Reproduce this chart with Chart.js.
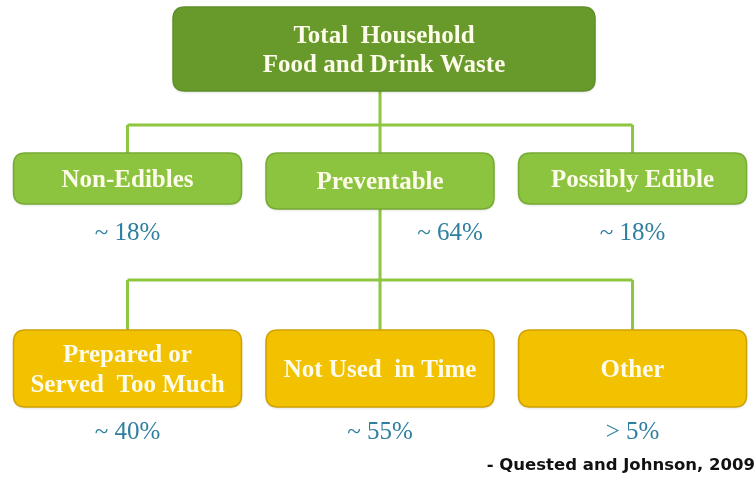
<!DOCTYPE html>
<html><head><meta charset="utf-8">
<script src="https://cdn.jsdelivr.net/npm/chart.js@4/dist/chart.umd.min.js"></script>
<style>html,body{margin:0;padding:0;background:#fff}#wrap{width:755px;height:477px}</style>
</head><body><div id="wrap"><canvas id="c" width="755" height="477"></canvas></div>
<script>
// ---- data ----
const rootLabel = ['Total  Household', 'Food and Drink Waste'];
const level1Labels = [['Non-Edibles'], ['Preventable'], ['Possibly Edible']];
const level1Values = [18, 64, 18];
const level1Qualifiers = ['~', '~', '~'];
const level2Labels = [['Prepared or', 'Served  Too Much'], ['Not Used  in Time'], ['Other']];
const level2Values = [40, 55, 5];
const level2Qualifiers = ['~', '~', '>'];
const expandedIndex = 1;               // level-1 node that splits into level 2
const sourceNote = '- Quested and Johnson, 2009';

// ---- layout / style (not data) ----
const L = {
  rootTop: 7, rootBottom: 91, rootHalfW: 211, rootDx: 4,
  rowTop: [153, 330], rowBottom: [204, 407], expandedBottom: 209,
  halfW: 114, joinY: [125, 280],
  valueY: [233, 432], expandedValueDx: 70,
  radius: 12
};
const C = {
  root: '#689a2b', rootBorder: '#5f8f27',
  l1: '#8cc43f', l1Border: '#76aa33',
  l2: '#f2c100', l2Border: '#cfa200',
  line: '#8dc63f', boxText: '#fdfbea', value: '#2f7f9f'
};

const cols = level1Labels.map((_, i) => i);

function seg(x1, y1, x2, y2) {
  return { type: 'line', data: [{x: x1, y: y1}, {x: x2, y: y2}], borderColor: C.line,
    borderWidth: 3, pointRadius: 0, borderCapStyle: 'butt', fill: false, tension: 0 };
}
const datasets = [];
// root -> level 1
datasets.push(seg(expandedIndex, L.rootBottom, expandedIndex, L.joinY[0]));
datasets.push(seg(Math.min(...cols), L.joinY[0], Math.max(...cols), L.joinY[0]));
cols.forEach(c => datasets.push(seg(c, L.joinY[0], c, L.rowTop[0])));
// expanded node -> level 2
datasets.push(seg(expandedIndex, L.expandedBottom, expandedIndex, L.joinY[1]));
datasets.push(seg(Math.min(...cols), L.joinY[1], Math.max(...cols), L.joinY[1]));
level2Labels.forEach((_, c) => datasets.push(seg(c, L.joinY[1], c, L.rowTop[1])));

function rr(ctx, x, y, w, h, r) {
  ctx.beginPath();
  ctx.moveTo(x + r, y); ctx.lineTo(x + w - r, y); ctx.quadraticCurveTo(x + w, y, x + w, y + r);
  ctx.lineTo(x + w, y + h - r); ctx.quadraticCurveTo(x + w, y + h, x + w - r, y + h);
  ctx.lineTo(x + r, y + h); ctx.quadraticCurveTo(x, y + h, x, y + h - r);
  ctx.lineTo(x, y + r); ctx.quadraticCurveTo(x, y, x + r, y); ctx.closePath();
}

const treePlugin = {
  id: 'tree',
  afterDatasetsDraw(chart) {
    const ctx = chart.ctx, xs = chart.scales.x, ys = chart.scales.y;
    function box(col, dx, top, bottom, halfW, fill, border, lines, fontPx, lh) {
      const cx = xs.getPixelForValue(col) + dx, t = ys.getPixelForValue(top), b = ys.getPixelForValue(bottom);
      ctx.save();
      ctx.shadowColor = 'rgba(0,0,0,0.18)'; ctx.shadowBlur = 3; ctx.shadowOffsetY = 1;
      rr(ctx, cx - halfW, t, halfW * 2, b - t, L.radius);
      ctx.fillStyle = fill; ctx.fill();
      ctx.shadowColor = 'transparent';
      ctx.lineWidth = 1.5; ctx.strokeStyle = border; ctx.stroke();
      ctx.fillStyle = C.boxText; ctx.font = 'bold ' + fontPx + 'px "Liberation Serif", "DejaVu Serif", serif';
      ctx.textAlign = 'center'; ctx.textBaseline = 'middle';
      const mid = (t + b) / 2, n = lines.length;
      lines.forEach((s, i) => ctx.fillText(s, cx, mid + (i - (n - 1) / 2) * lh + 2));
      ctx.restore();
    }
    box(expandedIndex, L.rootDx, L.rootTop, L.rootBottom, L.rootHalfW, C.root, C.rootBorder, rootLabel, 25, 29);
    level1Labels.forEach((lab, i) => box(i, 0, L.rowTop[0], i === expandedIndex ? L.expandedBottom : L.rowBottom[0],
      L.halfW, C.l1, C.l1Border, lab, 25, 30));
    level2Labels.forEach((lab, i) => box(i, 0, L.rowTop[1], L.rowBottom[1], L.halfW, C.l2, C.l2Border, lab, 25, 30));

    ctx.save();
    ctx.fillStyle = C.value; ctx.font = '25px "Liberation Serif", "DejaVu Serif", serif';
    ctx.textAlign = 'center'; ctx.textBaseline = 'middle';
    level1Values.forEach((v, i) => {
      const dx = i === expandedIndex ? L.expandedValueDx : 0;
      ctx.fillText(level1Qualifiers[i] + ' ' + v + '%', xs.getPixelForValue(i) + dx, ys.getPixelForValue(L.valueY[0]));
    });
    level2Values.forEach((v, i) => {
      ctx.fillText(level2Qualifiers[i] + ' ' + v + '%', xs.getPixelForValue(i), ys.getPixelForValue(L.valueY[1]));
    });
    ctx.fillStyle = '#111'; ctx.font = 'bold 16.5px "DejaVu Sans", sans-serif';
    ctx.textAlign = 'right';
    ctx.fillText(sourceNote, chart.width, ys.getPixelForValue(466));
    ctx.restore();
  }
};

new Chart(document.getElementById('c'), {
  type: 'line',
  data: { datasets },
  options: {
    responsive: false, animation: false, events: [],
    layout: { padding: 0 },
    plugins: { legend: { display: false }, tooltip: { enabled: false } },
    scales: {
      x: { type: 'linear', display: false, min: -0.505, max: 2.485 },
      y: { type: 'linear', display: false, min: 0, max: 477, reverse: true }
    }
  },
  plugins: [{ id: 'bg', beforeDraw(c) { c.ctx.save(); c.ctx.fillStyle = '#fff'; c.ctx.fillRect(0, 0, c.width, c.height); c.ctx.restore(); } }, treePlugin]
});
</script></body></html>
